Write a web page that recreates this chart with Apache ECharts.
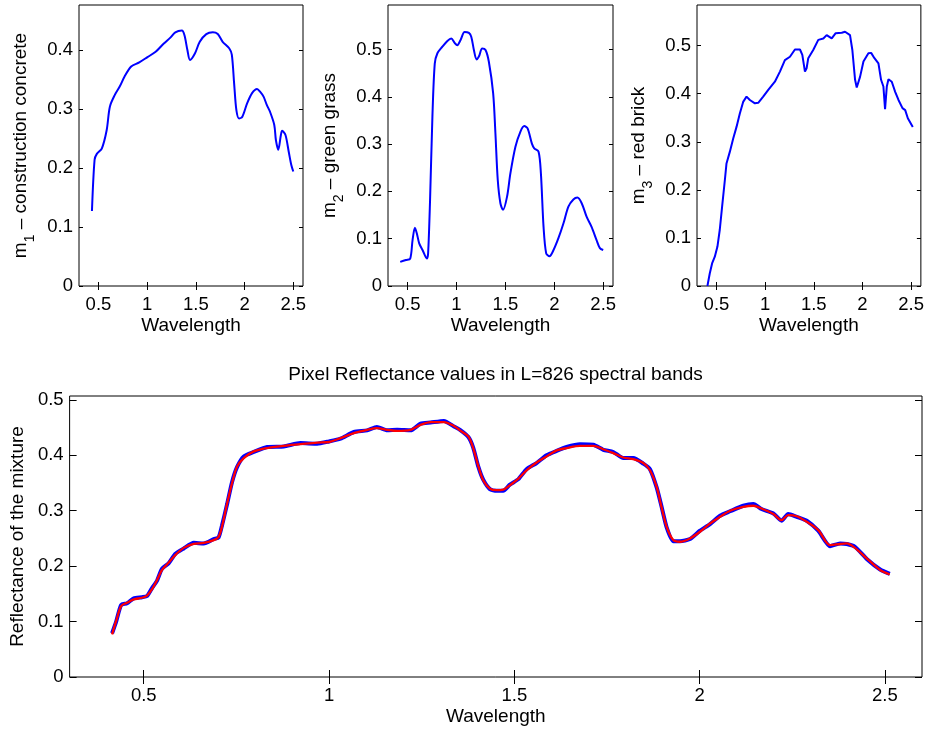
<!DOCTYPE html>
<html><head><meta charset="utf-8">
<script src="https://cdn.jsdelivr.net/npm/echarts@6/dist/echarts.min.js"></script>
<style>html,body{margin:0;padding:0;background:#fff}#c{width:927px;height:731px}</style>
</head><body><div id="c"></div>
<script>
// ---- tick labels ----
const xTicks = [0.5, 1, 1.5, 2, 2.5];
const yTicks1 = [0, 0.1, 0.2, 0.3, 0.4];
const yTicks2 = [0, 0.1, 0.2, 0.3, 0.4, 0.5];
const yTicks3 = [0, 0.1, 0.2, 0.3, 0.4, 0.5];
const yTicksMix = [0, 0.1, 0.2, 0.3, 0.4, 0.5];

// ---- m1: construction concrete ----
const wl1 = [0.433,0.46,0.483,0.534,0.584,0.617,0.668,0.718,0.768,0.836,0.919,1.003,1.087,1.171,1.238,1.289,1.356,1.383,1.413,1.44,1.49,1.54,1.607,1.674,1.725,1.775,1.842,1.869,1.893,1.916,1.943,1.977,2.027,2.077,2.128,2.161,2.195,2.228,2.262,2.305,2.322,2.346,2.373,2.386,2.42,2.453,2.48,2.5];
const m1 = [0.127,0.214,0.224,0.233,0.264,0.304,0.324,0.338,0.355,0.372,0.379,0.388,0.397,0.411,0.421,0.430,0.433,0.425,0.400,0.383,0.394,0.414,0.427,0.430,0.427,0.414,0.403,0.392,0.343,0.298,0.284,0.287,0.310,0.327,0.334,0.329,0.321,0.307,0.295,0.273,0.247,0.231,0.256,0.263,0.256,0.228,0.205,0.194];

// ---- m2: green grass ----
const wl2 = [0.425,0.483,0.527,0.551,0.575,0.595,0.619,0.653,0.697,0.71,0.73,0.754,0.778,0.805,0.856,0.907,0.947,0.981,1.008,1.042,1.083,1.127,1.151,1.178,1.205,1.229,1.263,1.297,1.331,1.375,1.398,1.422,1.449,1.476,1.517,1.551,1.602,1.653,1.693,1.727,1.771,1.795,1.839,1.863,1.89,1.917,1.951,1.992,2.042,2.093,2.144,2.195,2.236,2.28,2.331,2.381,2.432,2.466,2.5];
const m2 = [0.051,0.055,0.058,0.097,0.123,0.111,0.090,0.076,0.058,0.069,0.182,0.358,0.470,0.492,0.506,0.518,0.523,0.514,0.509,0.520,0.537,0.535,0.527,0.499,0.479,0.485,0.502,0.499,0.474,0.407,0.323,0.224,0.175,0.161,0.189,0.238,0.294,0.326,0.338,0.333,0.301,0.291,0.284,0.238,0.125,0.069,0.063,0.076,0.101,0.132,0.168,0.183,0.187,0.175,0.146,0.125,0.097,0.080,0.076];

// ---- m3: red brick ----
const wl3 = [0.407,0.431,0.455,0.483,0.51,0.534,0.558,0.586,0.603,0.637,0.672,0.706,0.74,0.774,0.809,0.843,0.895,0.929,0.98,1.032,1.1,1.152,1.203,1.255,1.306,1.358,1.382,1.409,1.426,1.443,1.494,1.546,1.598,1.632,1.684,1.725,1.787,1.821,1.872,1.896,1.924,1.941,1.975,2.01,2.061,2.089,2.123,2.164,2.191,2.215,2.232,2.25,2.267,2.301,2.336,2.37,2.411,2.439,2.466,2.517];
const m3 = [0.000,0.026,0.047,0.061,0.082,0.117,0.165,0.220,0.255,0.279,0.307,0.331,0.359,0.383,0.394,0.387,0.380,0.381,0.394,0.408,0.425,0.446,0.470,0.477,0.492,0.492,0.481,0.446,0.453,0.474,0.491,0.512,0.515,0.522,0.515,0.526,0.527,0.529,0.522,0.491,0.429,0.413,0.435,0.467,0.484,0.485,0.474,0.463,0.429,0.415,0.368,0.415,0.430,0.425,0.404,0.387,0.370,0.366,0.349,0.331];

// ---- pixel mixture ----
const wlMix = [0.4146,0.426,0.439,0.455,0.473,0.4955,0.509,0.522,0.536,0.549,0.567,0.585,0.608,0.635,0.662,0.689,0.702,0.711,0.725,0.738,0.752,0.77,0.797,0.833,0.878,0.923,0.968,1.0,1.031,1.067,1.103,1.129,1.157,1.184,1.22,1.247,1.274,1.31,1.337,1.3534,1.376,1.389,1.403,1.416,1.434,1.452,1.47,1.488,1.511,1.533,1.56,1.587,1.614,1.641,1.677,1.713,1.74,1.767,1.794,1.821,1.848,1.866,1.884,1.897,1.911,1.929,1.947,1.974,2.001,2.028,2.055,2.082,2.118,2.145,2.167,2.199,2.221,2.239,2.262,2.289,2.32,2.352,2.379,2.397,2.419,2.451,2.487,2.513];
const mixNoisy = [0.079,0.101,0.130,0.133,0.142,0.144,0.146,0.160,0.174,0.195,0.205,0.222,0.232,0.242,0.241,0.249,0.252,0.273,0.312,0.351,0.379,0.398,0.406,0.415,0.416,0.422,0.421,0.425,0.430,0.442,0.445,0.451,0.445,0.446,0.445,0.457,0.459,0.462,0.452,0.446,0.433,0.414,0.379,0.356,0.339,0.336,0.336,0.347,0.357,0.375,0.386,0.400,0.408,0.415,0.420,0.419,0.410,0.406,0.395,0.395,0.385,0.375,0.342,0.308,0.270,0.245,0.245,0.249,0.264,0.276,0.291,0.299,0.309,0.312,0.303,0.295,0.282,0.294,0.289,0.282,0.264,0.236,0.241,0.240,0.235,0.213,0.194,0.186];
const mixModel = [0.077,0.102,0.128,0.134,0.140,0.143,0.147,0.158,0.175,0.193,0.206,0.220,0.233,0.240,0.242,0.247,0.253,0.271,0.313,0.349,0.380,0.395,0.407,0.413,0.417,0.420,0.423,0.424,0.431,0.440,0.446,0.449,0.446,0.444,0.446,0.455,0.460,0.460,0.453,0.445,0.434,0.413,0.380,0.355,0.340,0.337,0.338,0.346,0.358,0.373,0.387,0.398,0.409,0.413,0.417,0.417,0.411,0.404,0.396,0.393,0.386,0.373,0.343,0.307,0.271,0.247,0.244,0.250,0.262,0.277,0.289,0.300,0.307,0.309,0.304,0.294,0.283,0.292,0.290,0.280,0.265,0.238,0.240,0.241,0.233,0.214,0.193,0.185];

const FONT = 'Liberation Sans, Arial, sans-serif';
const BLACK = '#000';
const zip = (xs, ys) => xs.map((x, i) => [x, ys[i]]);

function mkX(gi, len, top) {
  return {
    type: 'value', gridIndex: gi, min: 0.3, max: 2.6, position: top ? 'top' : 'bottom',
    axisLine: { show: false }, splitLine: { show: false },
    axisTick: { show: true, inside: true, length: len, customValues: xTicks, lineStyle: { color: BLACK, width: 1 } },
    axisLabel: { show: !top, customValues: xTicks, margin: 9, fontSize: 18.5, fontFamily: FONT, color: BLACK },
    name: top ? '' : 'Wavelength', nameLocation: 'middle', nameGap: 30,
    nameTextStyle: { fontSize: 19, fontFamily: FONT, color: BLACK }
  };
}
function mkY(gi, max, ticks, len, right, name, gap, rich) {
  const ax = {
    type: 'value', gridIndex: gi, min: 0, max: max, position: right ? 'right' : 'left',
    axisLine: { show: false }, splitLine: { show: false },
    axisTick: { show: true, inside: true, length: len, customValues: ticks, lineStyle: { color: BLACK, width: 1 } },
    axisLabel: { show: !right, customValues: ticks, margin: 6, fontSize: 18.5, fontFamily: FONT, color: BLACK },
    name: right ? '' : name, nameLocation: 'middle', nameGap: gap,
    nameTextStyle: { fontSize: 19, fontFamily: FONT, color: BLACK }
  };
  if (rich && !right) ax.nameTextStyle.rich = rich;
  return ax;
}
const subRich = {
  a: { fontSize: 19, fontFamily: FONT, color: BLACK, verticalAlign: 'top' },
  s: { fontSize: 14, fontFamily: FONT, color: BLACK, verticalAlign: 'top', padding: [12, 0, 0, 0] }
};

const grids = [
  { left: 79, top: 5, width: 224, height: 281 },
  { left: 388, top: 5, width: 225, height: 281 },
  { left: 697, top: 5, width: 225, height: 281 },
  { left: 69, top: 396, width: 853, height: 281 }
].map(g => Object.assign({ show: true, borderColor: BLACK, borderWidth: 1, backgroundColor: 'transparent', containLabel: false }, g));

const xAxis = [], yAxis = [];
for (let i = 0; i < 3; i++) { xAxis.push(mkX(i, 4, false)); xAxis.push(mkX(i, 4, true)); }
xAxis.push(mkX(3, 7, false)); xAxis.push(mkX(3, 7, true));
yAxis.push(mkY(0, 0.4763, yTicks1, 4, false, '{a|m}{s|1}{a| – construction concrete}', 42, subRich));
yAxis.push(mkY(0, 0.4763, yTicks1, 4, true));
yAxis.push(mkY(1, 0.594, yTicks2, 4, false, '{a|m}{s|2}{a| – green grass}', 42, subRich));
yAxis.push(mkY(1, 0.594, yTicks2, 4, true));
yAxis.push(mkY(2, 0.5846, yTicks3, 4, false, '{a|m}{s|3}{a| – red brick}', 42, subRich));
yAxis.push(mkY(2, 0.5846, yTicks3, 4, true));
yAxis.push(mkY(3, 0.507, yTicksMix, 7, false, 'Reflectance of the mixture', 41));
yAxis.push(mkY(3, 0.507, yTicksMix, 7, true));

const lineS = (xi, yi, data, color, w, smooth, name) => ({
  type: 'line', name: name, xAxisIndex: xi, yAxisIndex: yi, data: data, showSymbol: false, symbol: 'none',
  smooth: smooth, lineStyle: { color: color, width: w }, itemStyle: { color: color }, animation: false, z: 3
});

const option = {
  animation: false,
  backgroundColor: '#fff',
  title: {
    text: 'Pixel Reflectance values in L=826 spectral bands',
    left: 495.5, top: 365, textAlign: 'center', padding: 0,
    textStyle: { fontSize: 19, fontWeight: 'normal', fontFamily: FONT, color: BLACK }
  },
  grid: grids,
  xAxis: xAxis,
  yAxis: yAxis,
  series: [
    lineS(0, 0, zip(wl1, m1), '#0000ff', 2, 0.3, 'm1'),
    lineS(2, 2, zip(wl2, m2), '#0000ff', 2, 0.3, 'm2'),
    lineS(4, 4, zip(wl3, m3), '#0000ff', 2, false, 'm3'),
    lineS(6, 6, zip(wlMix, mixNoisy), '#0000ff', 4, 0.2, 'observed'),
    lineS(6, 6, zip(wlMix, mixModel), '#ff0000', 2.3, 0.3, 'model')
  ]
};
const chart = echarts.init(document.getElementById('c'), null, { renderer: 'canvas' });
chart.setOption(option);
</script></body></html>
